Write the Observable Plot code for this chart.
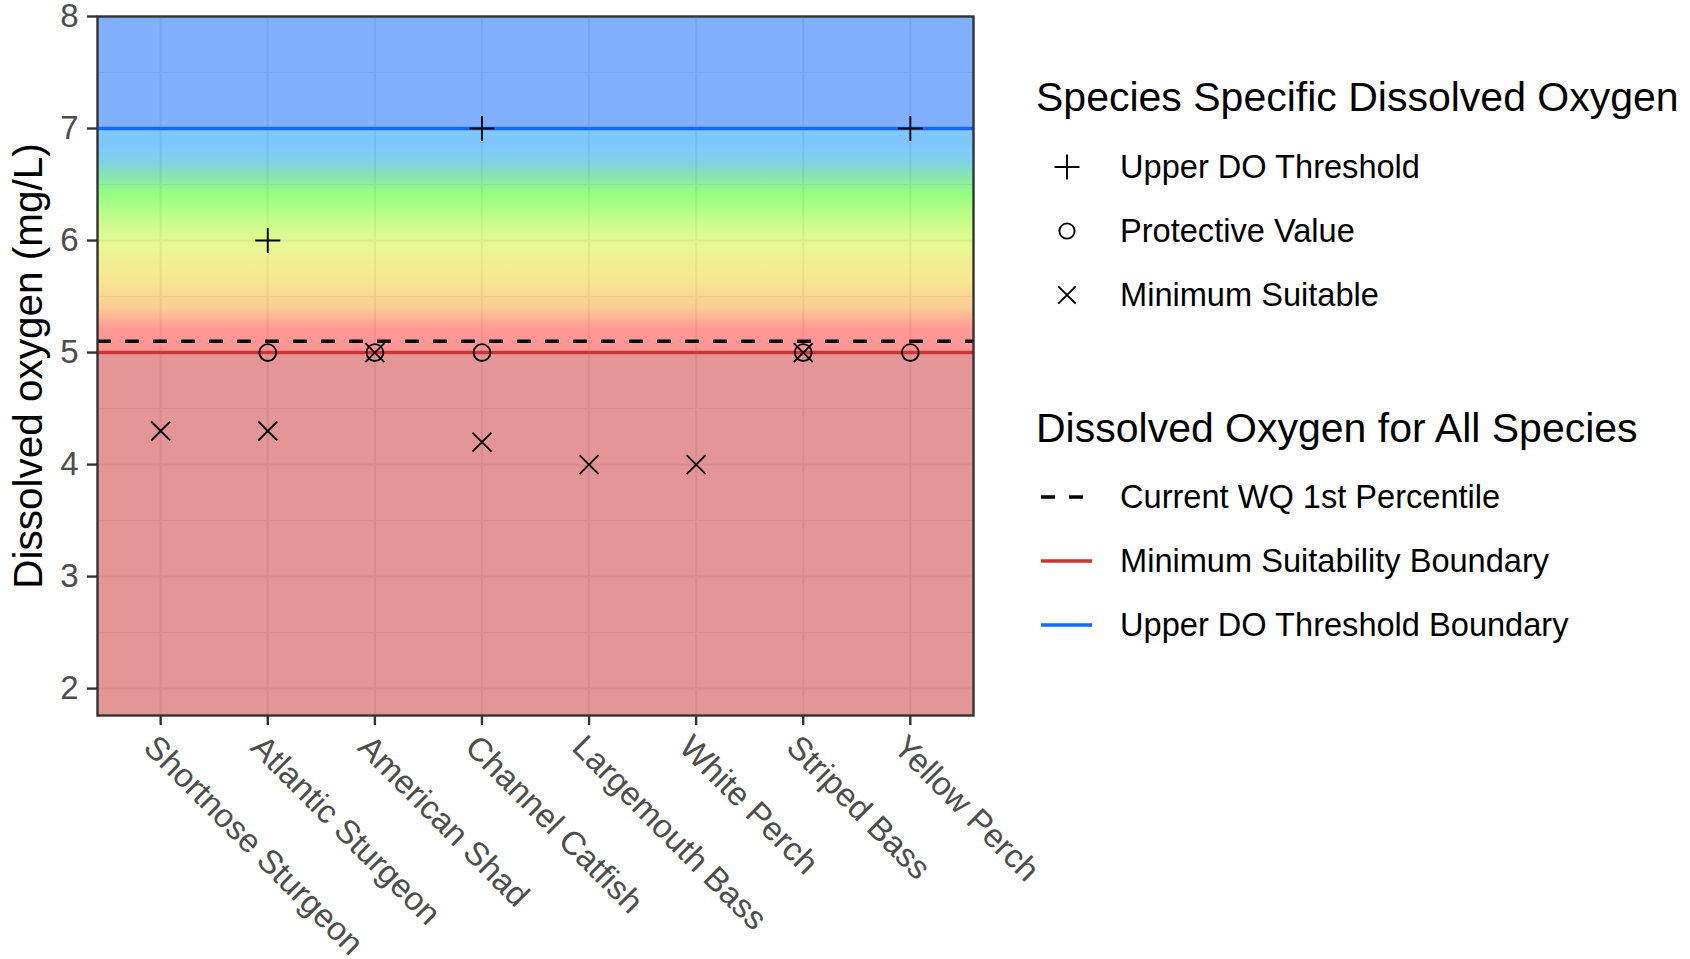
<!DOCTYPE html>
<html>
<head>
<meta charset="utf-8">
<script src="https://cdn.jsdelivr.net/npm/d3@7"></script>
<script src="https://cdn.jsdelivr.net/npm/@observablehq/plot@0.6"></script>
<style>
  html, body { margin: 0; padding: 0; background: #ffffff; }
  #chart { position: relative; width: 1690px; height: 959px; font-family: "Liberation Sans", Arial, sans-serif; }
  #chart > svg { position: absolute; left: 0; top: 0; }
  .legend-title { position: absolute; left: 1036px; height: 50px; line-height: 50px; font-size: 41px; color: #000; white-space: nowrap; }
  .legend-row { position: absolute; left: 1036px; height: 50px; display: flex; align-items: center; white-space: nowrap; }
  .legend-row svg { flex: none; }
  .legend-row span { position: absolute; left: 84px; font-size: 32.6px; color: #000; line-height: 50px; }
</style>
</head>
<body>
<div id="chart"></div>
<script>
// Species along the x axis
const species = ["Shortnose Sturgeon", "Atlantic Sturgeon", "American Shad", "Channel Catfish",
                 "Largemouth Bass", "White Perch", "Striped Bass", "Yellow Perch"];

// Species-specific dissolved oxygen values (mg/L); null = not defined for that species
const upperThreshold  = [null, 6,   null, 7,   null, null, null, 7];
const protectiveValue = [null, 5,   5,    5,   null, null, 5,    5];
const minimumSuitable = [4.3,  4.3, 5,    4.2, 4.0,  4.0,  5,    null];

// Reference levels for all species (mg/L)
const currentWQ1stPercentile = 5.1;
const minimumSuitabilityBoundary = 5;
const upperThresholdBoundary = 7;

// Axis ticks and extent
const yTicks = [2, 3, 4, 5, 6, 7, 8];
const yMinorTicks = [2.5, 3.5, 4.5, 5.5, 6.5, 7.5];
const yDomain = [1.76, 8];

// Background shading between the two boundaries
const gradientValues = [7, 6.85, 6.7, 6.58, 6.4, 6.15, 5.95, 5.65, 5.4, 5.2, 5];
const gradientColors = ["#0091FF", "#0091FF", "#00A5CD", "#0FC869", "#33FF01", "#96FA1E",
                        "#D2F028", "#F0CD23", "#FA9B2D", "#FF322D", "#FF2D2D"];

// Legend labels
const speciesLegendTitle = "Species Specific Dissolved Oxygen";
const speciesLegendLabels = ["Upper DO Threshold", "Protective Value", "Minimum Suitable"];
const boundaryLegendTitle = "Dissolved Oxygen for All Species";
const boundaryLegendLabels = ["Current WQ 1st Percentile", "Minimum Suitability Boundary", "Upper DO Threshold Boundary"];

const rows = species.map((s, i) => ({
  species: s,
  upper: upperThreshold[i],
  protective: protectiveValue[i],
  minimum: minimumSuitable[i]
}));

// Stroked plus / times symbols whose half-extent equals r
const plusSymbol = {
  draw(ctx, size) {
    const h = Math.sqrt(size / Math.PI);
    ctx.moveTo(-h, 0); ctx.lineTo(h, 0);
    ctx.moveTo(0, -h); ctx.lineTo(0, h);
  }
};
const timesSymbol = {
  draw(ctx, size) {
    const h = Math.sqrt(size / Math.PI);
    ctx.moveTo(-h, -h); ctx.lineTo(h, h);
    ctx.moveTo(-h, h); ctx.lineTo(h, -h);
  }
};

const colors = {
  red: "#CD3434",
  blue: "#0F6BFF",
  lowFill: "#C92D2D",
  highFill: "#0161FF",
  grid: "#EBEBEB",
  axis: "#333333",
  tickText: "#4D4D4D"
};

const pointStyle = {stroke: "black", strokeWidth: 1.9, fill: "none"};
const sizes = {plus: 12.5, circle: 8.4, times: 9.5};

const plot = Plot.plot({
  width: 1690,
  height: 959,
  marginLeft: 97,
  marginTop: 16,
  marginRight: 717,
  marginBottom: 244,
  style: {fontFamily: '"Liberation Sans", Arial, sans-serif', background: "transparent", overflow: "visible"},
  x: {type: "point", domain: species, padding: 0.59, round: false},
  y: {domain: yDomain},
  marks: [
    () => {
      const defs = d3.create("svg:defs");
      const g = defs.append("linearGradient")
        .attr("id", "do-gradient")
        .attr("x1", 0).attr("y1", 0).attr("x2", 0).attr("y2", 1);
      const span = upperThresholdBoundary - minimumSuitabilityBoundary;
      gradientValues.forEach((v, i) => {
        g.append("stop")
          .attr("offset", (upperThresholdBoundary - v) / span)
          .attr("stop-color", gradientColors[i]);
      });
      return defs.node();
    },
    // grid
    Plot.ruleY(yMinorTicks, {stroke: colors.grid, strokeWidth: 1.2}),
    Plot.ruleY(yTicks, {stroke: colors.grid, strokeWidth: 2.2}),
    Plot.ruleX(species, {stroke: colors.grid, strokeWidth: 2.2}),
    // translucent shading bands
    Plot.rect([{lo: yDomain[0], hi: minimumSuitabilityBoundary}],
      {y1: "lo", y2: "hi", fill: colors.lowFill, fillOpacity: 0.5}),
    Plot.rect([{lo: minimumSuitabilityBoundary, hi: upperThresholdBoundary}],
      {y1: "lo", y2: "hi", fill: "url(#do-gradient)", fillOpacity: 0.5}),
    Plot.rect([{lo: upperThresholdBoundary, hi: yDomain[1]}],
      {y1: "lo", y2: "hi", fill: colors.highFill, fillOpacity: 0.5}),
    // reference lines
    Plot.ruleY([minimumSuitabilityBoundary], {stroke: colors.red, strokeWidth: 3.5}),
    Plot.ruleY([upperThresholdBoundary], {stroke: colors.blue, strokeWidth: 3.5}),
    Plot.ruleY([currentWQ1stPercentile], {stroke: "black", strokeWidth: 3.5, strokeDasharray: "14,14"}),
    // species points
    Plot.dot(rows, {x: "species", y: "upper", symbol: plusSymbol, r: sizes.plus, ...pointStyle}),
    Plot.dot(rows, {x: "species", y: "protective", symbol: "circle", r: sizes.circle, ...pointStyle}),
    Plot.dot(rows, {x: "species", y: "minimum", symbol: timesSymbol, r: sizes.times, ...pointStyle}),
    // panel border and axes
    Plot.frame({stroke: colors.axis, strokeWidth: 2.4}),
    Plot.axisY(yTicks, {tickSize: 10, tickPadding: 9, stroke: colors.axis, strokeWidth: 2.4,
      fill: colors.tickText, fontSize: 33, tickFormat: d => String(d), label: null}),
    Plot.axisX({tickSize: 10, stroke: colors.axis, strokeWidth: 2.4, fill: "none", label: null}),
    Plot.text(species, {x: d => d, frameAnchor: "bottom", rotate: 45, textAnchor: "start",
      lineAnchor: "top", dx: -2, dy: 17, fontSize: 33, fill: colors.tickText}),
    Plot.text(["Dissolved oxygen (mg/L)"], {frameAnchor: "left", dx: -68, rotate: -90,
      textAnchor: "middle", lineAnchor: "middle", fontSize: 40.5, fill: "black"})
  ]
});

const chart = d3.select("#chart");
chart.node().appendChild(plot);

// Legend
function legendTitle(text, centerY) {
  chart.append("div").attr("class", "legend-title")
    .style("top", (centerY - 25) + "px").text(text);
}
function legendRow(label, centerY, drawKey) {
  const row = chart.append("div").attr("class", "legend-row").style("top", (centerY - 25) + "px");
  const svg = row.append("svg").attr("width", 70).attr("height", 50);
  drawKey(svg.append("g"));
  row.append("span").text(label);
}
const keyStroke = g => g.attr("stroke", "black").attr("stroke-width", 1.9).attr("fill", "none");

legendTitle(speciesLegendTitle, 97);
legendRow(speciesLegendLabels[0], 167, g => {
  keyStroke(g).append("path").attr("d", `M${31 - sizes.plus},25H${31 + sizes.plus}M31,${25 - sizes.plus}V${25 + sizes.plus}`);
});
legendRow(speciesLegendLabels[1], 231, g => {
  keyStroke(g).append("circle").attr("cx", 31).attr("cy", 25).attr("r", 7.6);
});
legendRow(speciesLegendLabels[2], 295, g => {
  const h = 8.7;
  keyStroke(g).append("path").attr("d", `M${31 - h},${25 - h}L${31 + h},${25 + h}M${31 - h},${25 + h}L${31 + h},${25 - h}`);
});

legendTitle(boundaryLegendTitle, 428);
legendRow(boundaryLegendLabels[0], 497, g => {
  g.append("line").attr("x1", 5).attr("x2", 56).attr("y1", 25).attr("y2", 25)
    .attr("stroke", "black").attr("stroke-width", 3.5).attr("stroke-dasharray", "14,14");
});
legendRow(boundaryLegendLabels[1], 561, g => {
  g.append("line").attr("x1", 5).attr("x2", 56).attr("y1", 25).attr("y2", 25)
    .attr("stroke", colors.red).attr("stroke-width", 3.5);
});
legendRow(boundaryLegendLabels[2], 625, g => {
  g.append("line").attr("x1", 5).attr("x2", 56).attr("y1", 25).attr("y2", 25)
    .attr("stroke", colors.blue).attr("stroke-width", 3.5);
});
</script>
</body>
</html>
